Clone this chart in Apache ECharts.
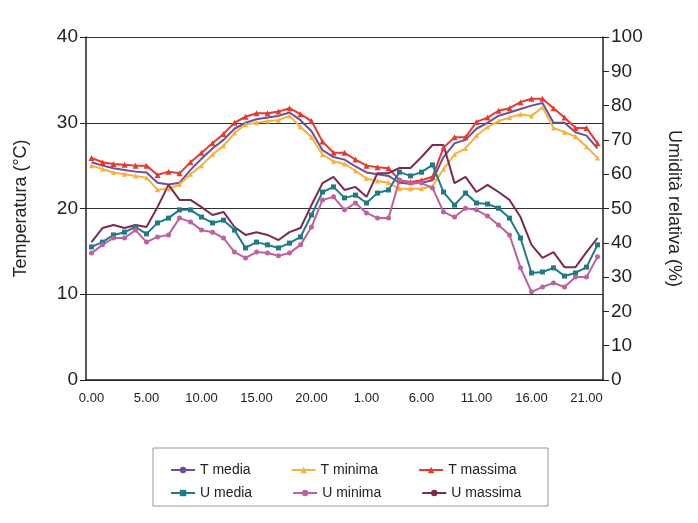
<!DOCTYPE html>
<html>
<head>
<meta charset="utf-8">
<script src="https://cdn.jsdelivr.net/npm/echarts@6/dist/echarts.min.js"></script>
<style>
html, body { margin: 0; padding: 0; background: #fff; }
#chart { width: 698px; height: 523px; }
</style>
</head>
<body>
<div id="chart"></div>
<script>
var hours = [];
for (var d = 0; d < 2; d++) {
	for (var h = 0; h < 24; h++) {
		if (hours.length < 47) hours.push(h + '.00');
	}
}

var tMedia = [25.4, 25.0, 24.7, 24.5, 24.3, 24.2, 23.0, 22.8, 23.0, 24.5, 25.8, 27.0, 28.0, 29.3, 30.0, 30.4, 30.6, 30.8, 31.2, 30.3, 29.0, 26.8, 26.0, 25.7, 24.9,
	24.2, 24.0, 23.8, 23.0, 22.9, 23.0, 23.3, 26.0, 27.6, 28.0, 29.3, 30.0, 30.8, 31.2, 31.6, 32.0, 32.3, 30.0, 30.0, 28.9, 28.5, 27.0];
var tMinima = [25.0, 24.6, 24.2, 24.0, 23.8, 23.6, 22.2, 22.3, 22.8, 24.0, 25.0, 26.3, 27.3, 28.8, 29.8, 30.0, 30.2, 30.3, 30.8, 29.5, 28.3, 26.3, 25.5, 25.2, 24.4,
	23.5, 23.2, 23.0, 22.3, 22.3, 22.3, 22.6, 24.6, 26.3, 27.0, 28.5, 29.5, 30.2, 30.6, 31.0, 30.8, 31.8, 29.4, 28.9, 28.4, 27.2, 25.9];
var tMassima = [25.9, 25.4, 25.2, 25.1, 25.0, 25.0, 23.9, 24.3, 24.1, 25.4, 26.5, 27.6, 28.7, 30.0, 30.7, 31.1, 31.1, 31.3, 31.7, 31.0, 30.2, 27.8, 26.5, 26.5, 25.7,
	25.0, 24.8, 24.7, 23.3, 23.1, 23.3, 23.7, 27.1, 28.3, 28.3, 30.1, 30.6, 31.4, 31.7, 32.4, 32.8, 32.8, 31.7, 30.6, 29.4, 29.4, 27.6];
var uMedia = [38.8, 40.2, 42.3, 43.1, 44.6, 42.6, 45.8, 47.2, 49.6, 49.6, 47.5, 45.8, 46.6, 43.7, 38.5, 40.2, 39.4, 38.5, 39.9, 41.7, 48.1, 54.8, 56.3, 53.1, 53.9,
	51.6, 54.5, 55.4, 60.6, 59.5, 60.6, 62.7, 54.8, 51.0, 54.5, 51.6, 51.3, 50.1, 47.2, 41.4, 31.2, 31.5, 32.7, 30.3, 31.2, 32.9, 39.4];
var uMinima = [37.0, 39.4, 41.4, 41.4, 43.7, 40.2, 41.7, 42.3, 47.2, 46.1, 43.7, 43.1, 41.4, 37.3, 35.6, 37.3, 37.0, 36.2, 37.0, 39.4, 44.6, 52.5, 53.4, 49.6, 51.6,
	48.7, 47.2, 47.2, 58.3, 57.4, 57.4, 56.0, 49.0, 47.5, 50.1, 49.6, 47.8, 45.2, 42.3, 32.7, 25.7, 27.1, 28.3, 27.1, 30.0, 30.0, 35.9];
var uMassima = [40.2, 44.3, 45.2, 44.3, 45.2, 44.6, 50.4, 56.9, 52.5, 52.5, 50.4, 48.1, 49.0, 44.6, 42.3, 43.1, 42.3, 40.8, 43.1, 44.3, 51.0, 57.4, 59.2, 55.4, 56.3,
	53.4, 60.3, 60.3, 61.8, 61.8, 65.0, 68.5, 68.5, 57.4, 59.2, 54.8, 56.9, 54.8, 52.5, 47.5, 39.4, 35.6, 37.3, 32.9, 32.9, 37.3, 41.4];

var font = "'Liberation Sans', Arial, sans-serif";
var myChart = echarts.init(document.getElementById('chart'));

function line(name, data, color, symbol, size, yIdx) {
	return {
		name: name,
		type: 'line',
		yAxisIndex: yIdx,
		data: data,
		symbol: symbol,
		symbolSize: size,
		showSymbol: symbol !== 'none',
		itemStyle: { color: color },
		lineStyle: { color: color, width: 2 },
		animation: false
	};
}

var legendBase = {
	itemWidth: 24,
	itemHeight: 8,
	itemGap: 40,
	textStyle: { fontFamily: font, fontSize: 14, color: '#222' }
};

var option = {
	grid: { left: 86, right: 95, top: 37, bottom: 143 },
	graphic: [{
		type: 'rect',
		shape: { x: 153, y: 448, width: 395, height: 58 },
		style: { fill: 'none', stroke: '#999', lineWidth: 1 }
	}],
	legend: [
		Object.assign({ left: 165, top: 458, data: ['T media', 'T minima', 'T massima'] }, legendBase),
		Object.assign({ left: 165, top: 481, data: ['U media', 'U minima', 'U massima'] }, legendBase)
	],
	xAxis: {
		type: 'category',
		data: hours,
		boundaryGap: true,
		axisLine: { lineStyle: { color: '#222', width: 1.5 } },
		axisTick: { alignWithLabel: true, interval: 0, length: 5, lineStyle: { color: '#222' } },
		axisLabel: { interval: 4, fontFamily: font, fontSize: 13, color: '#222', margin: 12 }
	},
	yAxis: [{
		type: 'value',
		min: 0, max: 40, interval: 10,
		name: 'Temperatura (°C)',
		nameLocation: 'middle',
		nameGap: 56,
		nameTextStyle: { fontFamily: font, fontSize: 18, color: '#222' },
		axisLine: { show: true, lineStyle: { color: '#222', width: 1.5 } },
		axisTick: { show: true, length: 6, lineStyle: { color: '#222' } },
		axisLabel: { fontFamily: font, fontSize: 19, color: '#222' },
		splitLine: { show: true, lineStyle: { color: '#333', width: 1.2 } }
	}, {
		type: 'value',
		min: 0, max: 100, interval: 10,
		name: 'Umidità relativa (%)',
		nameLocation: 'middle',
		nameGap: 62,
		nameRotate: -90,
		nameTextStyle: { fontFamily: font, fontSize: 18, color: '#222' },
		axisLine: { show: true, lineStyle: { color: '#222', width: 1.5 } },
		axisTick: { show: true, length: 6, lineStyle: { color: '#222' } },
		axisLabel: { fontFamily: font, fontSize: 19, color: '#222' },
		splitLine: { show: false }
	}],
	series: [
		line('T media', tMedia, '#6b4f9e', 'none', 0, 0),
		line('T minima', tMinima, '#f7b13c', 'triangle', 5, 0),
		line('T massima', tMassima, '#e8392f', 'triangle', 6, 0),
		line('U media', uMedia, '#1f7a8a', 'rect', 5, 1),
		line('U minima', uMinima, '#c0609f', 'circle', 5, 1),
		line('U massima', uMassima, '#7b2a50', 'none', 0, 1)
	]
};

myChart.setOption(option);
</script>
</body>
</html>
